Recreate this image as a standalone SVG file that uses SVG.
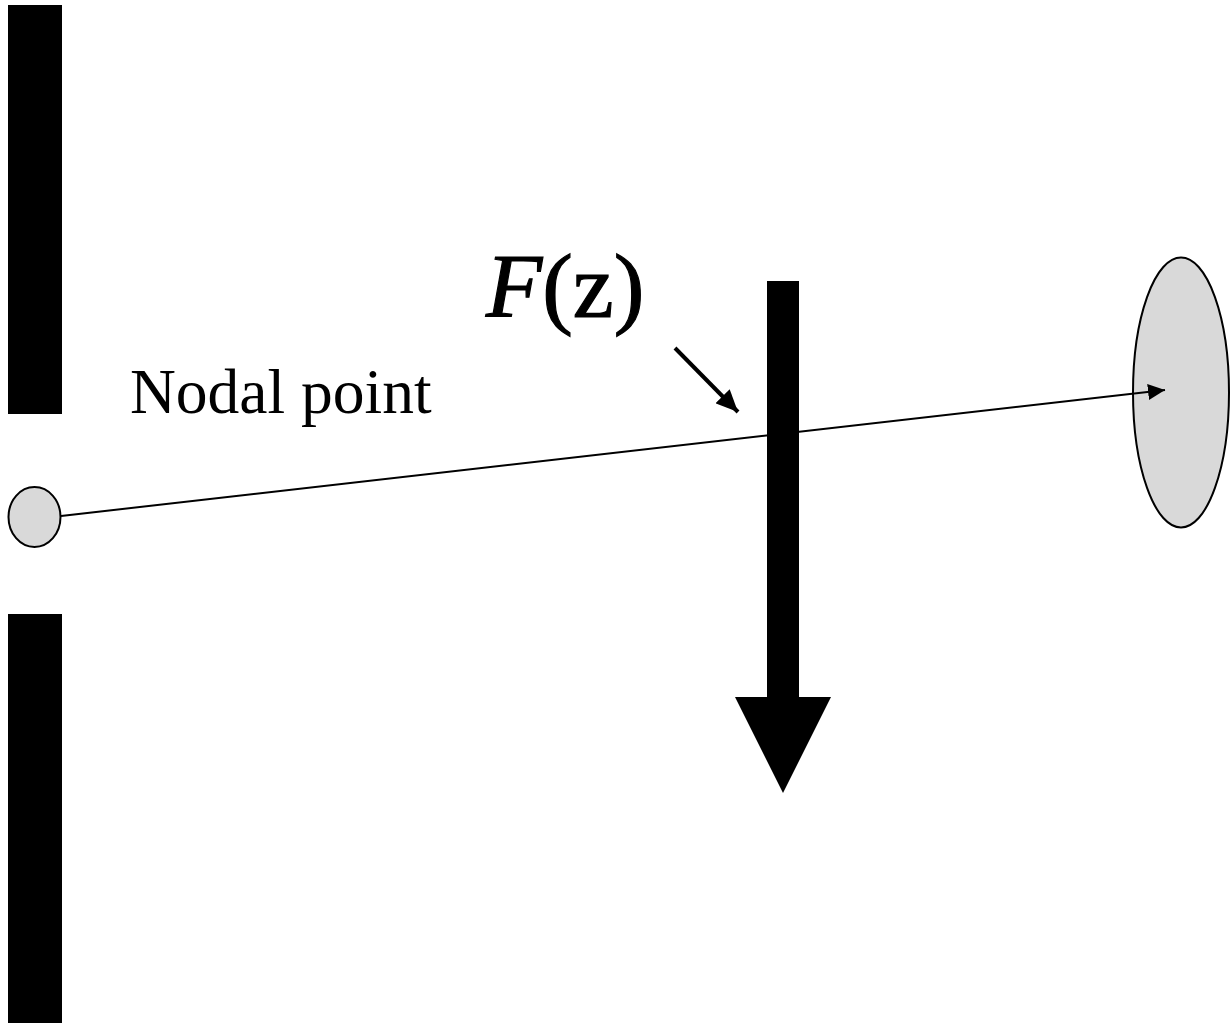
<svg xmlns="http://www.w3.org/2000/svg" width="1230" height="1023" viewBox="0 0 1230 1023">
<style>
.bar{fill:#000}
.node{fill:#d9d9d9;stroke:#000;stroke-width:2}
.lbl{font-family:"Liberation Serif","Times New Roman",serif;fill:#000}
</style>
<defs>
<marker id="ah" markerWidth="17" markerHeight="16" refX="17" refY="8" orient="auto" markerUnits="userSpaceOnUse">
<path d="M0,0 L17,8 L0,16 Z" fill="#000"/>
</marker>
<marker id="ah2" markerWidth="22" markerHeight="20" refX="22" refY="10" orient="auto" markerUnits="userSpaceOnUse">
<path d="M0,0 L22,10 L0,20 Z" fill="#000"/>
</marker>
</defs>
<rect fill="#fff" width="1230" height="1023"/>
<g id="aperture-top"><rect class="bar" x="8" y="5" width="54" height="409"/></g>
<g id="aperture-bottom"><rect class="bar" x="8" y="614" width="54" height="409"/></g>
<g id="nodal-point"><ellipse class="node" cx="34.5" cy="517" rx="26" ry="30"/></g>
<g id="retina"><ellipse class="node" cx="1181" cy="392.5" rx="48" ry="135"/></g>
<g id="force-arrow">
<rect class="bar" x="767" y="281" width="32" height="418"/>
<polygon class="bar" points="735,697 831,697 783,793"/>
</g>
<g id="connectors">
<line x1="675" y1="348" x2="738" y2="412" stroke="#000" stroke-width="4" marker-end="url(#ah2)"/>
<line x1="61" y1="516" x2="1165" y2="390" stroke="#000" stroke-width="2" marker-end="url(#ah)"/>
</g>
<g id="labels">
<text class="lbl" x="130" y="413" font-size="63.5">Nodal point</text>
<text class="lbl" x="486" y="317" font-size="92" stroke="#000" stroke-width="1.2"><tspan font-style="italic">F</tspan>(z)</text>
</g>
</svg>
